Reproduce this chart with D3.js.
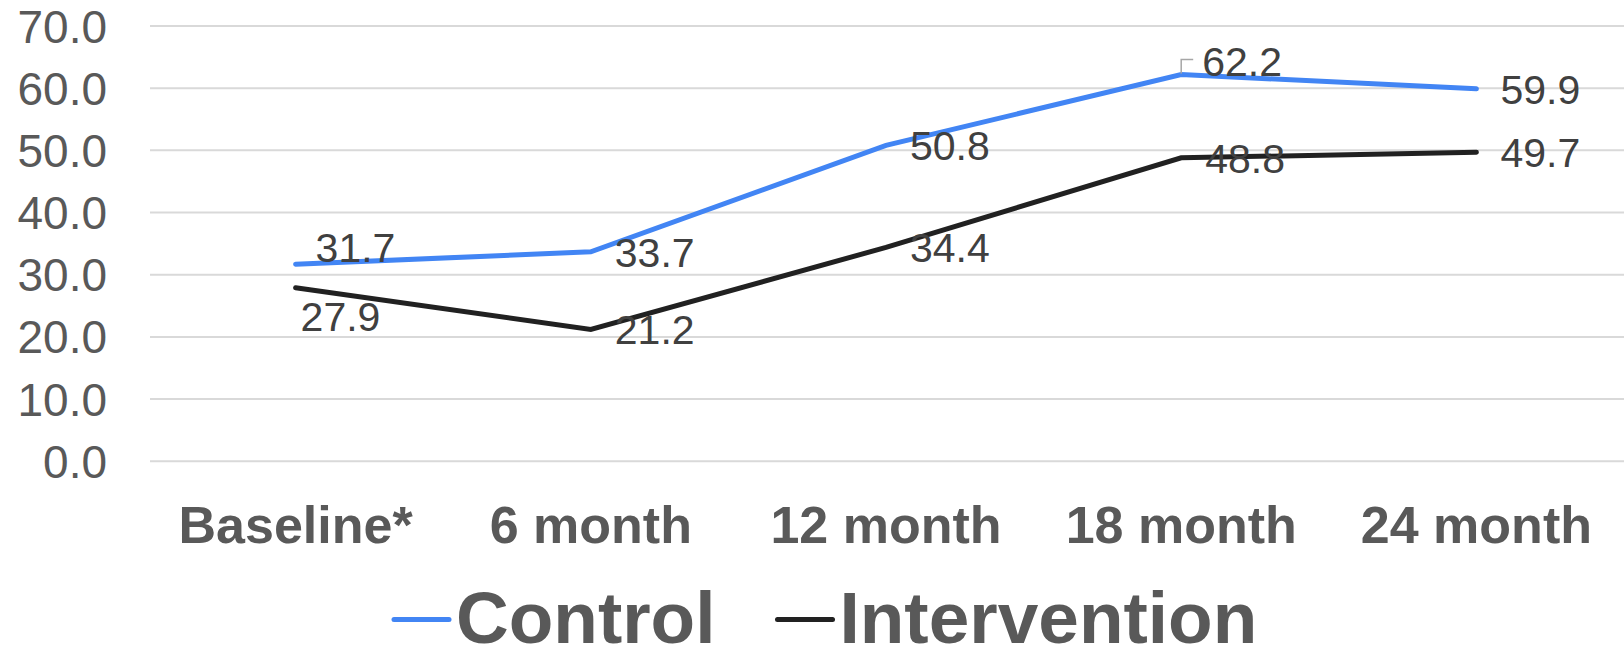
<!DOCTYPE html>
<html>
<head>
<meta charset="utf-8">
<script src="https://cdn.jsdelivr.net/npm/d3@7"></script>
<style>
  body { margin: 0; background: #fff; }
  svg { display: block; font-family: "Liberation Sans", Arial, sans-serif; }
</style>
</head>
<body>
<svg id="chart" width="1624" height="648"></svg>
<script>
// data
var categories = ['Baseline*', '6 month', '12 month', '18 month', '24 month']
var control = [31.7, 33.7, 50.8, 62.2, 59.9]
var intervention = [27.9, 21.2, 34.4, 48.8, 49.7]
var yTicks = [0, 10, 20, 30, 40, 50, 60, 70]

var seriesNames = ['Control', 'Intervention']
var seriesColors = ['#4285f4', '#212121']

;(function(){
  var svg = d3.select('#chart')

  var xScale = d3.scaleBand()
    .domain(categories)
    .range([148, 1624])

  var yScale = d3.scaleLinear()
    .domain([0, 70])
    .range([461.3, 26])

  function cx(c) { return xScale(c) + xScale.bandwidth() / 2 }

  // gridlines
  svg.append('g')
    .selectAll('line')
    .data(yTicks).enter()
    .append('line')
    .attr('x1', 150)
    .attr('x2', 1624)
    .attr('y1', d => yScale(d))
    .attr('y2', d => yScale(d))
    .attr('stroke', '#d9d9d9')
    .attr('stroke-width', 2)

  // y labels
  svg.append('g')
    .selectAll('text')
    .data(yTicks).enter()
    .append('text')
    .text(d => d3.format('.1f')(d))
    .attr('x', 107)
    .attr('y', d => yScale(d))
    .attr('dy', '0.36em')
    .attr('text-anchor', 'end')
    .attr('font-size', '46px')
    .attr('fill', '#595959')

  // x labels
  svg.append('g')
    .selectAll('text')
    .data(categories).enter()
    .append('text')
    .text(d => d)
    .attr('x', d => cx(d))
    .attr('y', 543)
    .attr('text-anchor', 'middle')
    .attr('font-size', '52px')
    .attr('font-weight', 'bold')
    .attr('fill', '#595959')

  var lineGenerator = d3.line()
    .x((d, i) => cx(categories[i]))
    .y(d => yScale(d))

  var allSeries = [control, intervention]

  // label nudges (dx, dy from the point); default sits to the right
  var nudges = {
    '0-0': [20, -2],
    '0-3': [21, 1],
    '1-0': [5, 43]
  }

  allSeries.forEach(function(vals, si) {
    svg.append('path')
      .attr('d', lineGenerator(vals))
      .attr('fill', 'none')
      .attr('stroke', seriesColors[si])
      .attr('stroke-width', 5)
      .attr('stroke-linecap', 'round')
  })

  // leader line for the moved 62.2 label
  var lx = cx(categories[3]), ly = yScale(control[3])
  svg.append('path')
    .attr('d', 'M' + lx + ',' + (ly - 1) + 'V' + (ly - 15) + 'H' + (lx + 12))
    .attr('fill', 'none')
    .attr('stroke', '#a6a6a6')
    .attr('stroke-width', 1.5)

  allSeries.forEach(function(vals, si) {
    svg.append('g')
      .selectAll('text')
      .data(vals).enter()
      .append('text')
      .text(d => d.toFixed(1))
      .attr('x', (d, i) => cx(categories[i]) + (nudges[si + '-' + i] || [24, 15])[0])
      .attr('y', (d, i) => yScale(d) + (nudges[si + '-' + i] || [24, 15])[1])
      .attr('font-size', '41px')
      .attr('fill', '#404040')
  })

  // legend
  var legend = svg.append('g')
  var lxPos = 394
  seriesNames.forEach(function(name, si) {
    legend.append('line')
      .attr('x1', lxPos)
      .attr('x2', lxPos + 55)
      .attr('y1', 619.5)
      .attr('y2', 619.5)
      .attr('stroke', seriesColors[si])
      .attr('stroke-width', 5)
      .attr('stroke-linecap', 'round')
    var t = legend.append('text')
      .text(name)
      .attr('x', lxPos + 62)
      .attr('y', 643)
      .attr('font-size', '73px')
      .attr('font-weight', 'bold')
      .attr('fill', '#595959')
    lxPos = lxPos + 62 + t.node().getComputedTextLength() + 62
  })
})()
</script>
</body>
</html>
